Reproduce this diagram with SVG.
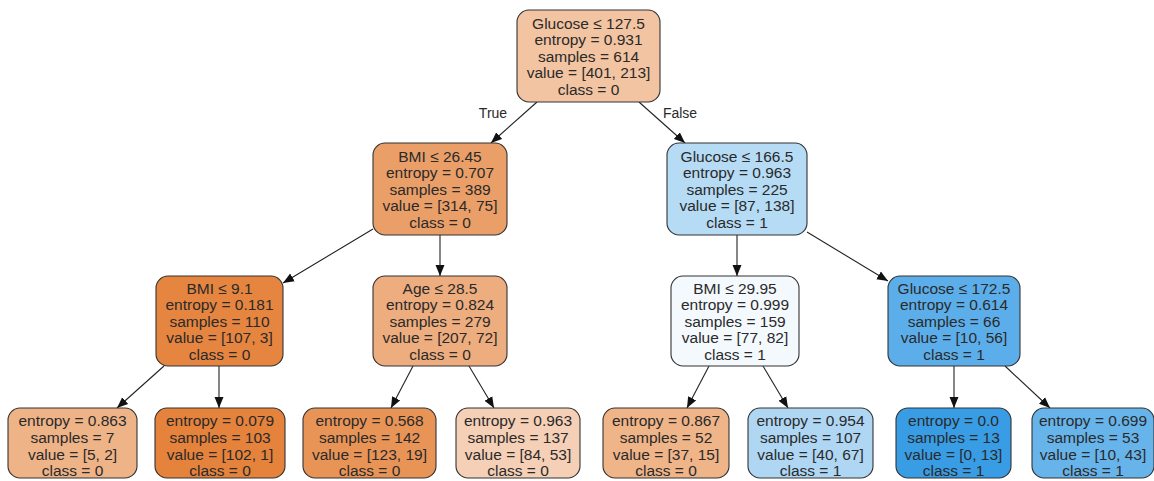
<svg xmlns="http://www.w3.org/2000/svg" width="1154" height="481" viewBox="0 0 1154 481">
<style>
.box{stroke:#333;stroke-width:1.1}
text{font-family:"Liberation Sans",Arial,sans-serif;font-size:15.5px;fill:#2a2a2a;text-anchor:middle}
.lbl{font-size:14px}
.edge{stroke:#222;stroke-width:1.1;fill:none;marker-end:url(#ah)}
</style>
<defs>
<marker id="ah" markerUnits="userSpaceOnUse" markerWidth="12" markerHeight="10" refX="11" refY="5" orient="auto">
<path d="M0,0.5 L11,5 L0,9.5 Z" fill="#111"/>
</marker>
</defs>
<g id="edges">
<line class="edge" x1="537" y1="102" x2="491" y2="143"/>
<line class="edge" x1="639" y1="102" x2="685" y2="143"/>
<line class="edge" x1="373" y1="229" x2="283" y2="283"/>
<line class="edge" x1="440" y1="235" x2="440" y2="276"/>
<line class="edge" x1="737" y1="235" x2="737" y2="276"/>
<line class="edge" x1="807" y1="232" x2="888" y2="281"/>
<line class="edge" x1="164" y1="366" x2="117" y2="408"/>
<line class="edge" x1="219" y1="366" x2="219" y2="408"/>
<line class="edge" x1="413" y1="366" x2="391" y2="408"/>
<line class="edge" x1="469" y1="366" x2="494" y2="408"/>
<line class="edge" x1="709" y1="366" x2="687" y2="408"/>
<line class="edge" x1="763" y1="366" x2="788" y2="408"/>
<line class="edge" x1="954" y1="366" x2="954" y2="408"/>
<line class="edge" x1="1005" y1="366" x2="1050" y2="408"/>
<text class="lbl" x="493" y="118">True</text>
<text class="lbl" x="680" y="118">False</text>
</g>
<g id="n0">
<rect class="box" x="517" y="10" width="143" height="92" rx="12" fill="#f3c4a2"/>
<text x="588.5" y="28.5">Glucose ≤ 127.5</text>
<text x="588.5" y="45">entropy = 0.931</text>
<text x="588.5" y="61.5">samples = 614</text>
<text x="588.5" y="78">value = [401, 213]</text>
<text x="588.5" y="94.5">class = 0</text>
</g>
<g id="n1">
<rect class="box" x="373" y="143" width="134" height="92" rx="12" fill="#eb9f68"/>
<text x="440" y="161.5">BMI ≤ 26.45</text>
<text x="440" y="178">entropy = 0.707</text>
<text x="440" y="194.5">samples = 389</text>
<text x="440" y="211">value = [314, 75]</text>
<text x="440" y="227.5">class = 0</text>
</g>
<g id="n2">
<rect class="box" x="667" y="143" width="140" height="92" rx="12" fill="#b6dbf5"/>
<text x="737" y="161.5">Glucose ≤ 166.5</text>
<text x="737" y="178">entropy = 0.963</text>
<text x="737" y="194.5">samples = 225</text>
<text x="737" y="211">value = [87, 138]</text>
<text x="737" y="227.5">class = 1</text>
</g>
<g id="n3">
<rect class="box" x="156" y="276" width="127" height="90" rx="12" fill="#e68540"/>
<text x="219.5" y="293.5">BMI ≤ 9.1</text>
<text x="219.5" y="310">entropy = 0.181</text>
<text x="219.5" y="326.5">samples = 110</text>
<text x="219.5" y="343">value = [107, 3]</text>
<text x="219.5" y="359.5">class = 0</text>
</g>
<g id="n4">
<rect class="box" x="373" y="276" width="134" height="90" rx="12" fill="#eead7e"/>
<text x="440" y="293.5">Age ≤ 28.5</text>
<text x="440" y="310">entropy = 0.824</text>
<text x="440" y="326.5">samples = 279</text>
<text x="440" y="343">value = [207, 72]</text>
<text x="440" y="359.5">class = 0</text>
</g>
<g id="n5">
<rect class="box" x="671" y="276" width="128" height="90" rx="12" fill="#f3f9fd"/>
<text x="735" y="293.5">BMI ≤ 29.95</text>
<text x="735" y="310">entropy = 0.999</text>
<text x="735" y="326.5">samples = 159</text>
<text x="735" y="343">value = [77, 82]</text>
<text x="735" y="359.5">class = 1</text>
</g>
<g id="n6">
<rect class="box" x="888" y="276" width="132" height="90" rx="12" fill="#5caeea"/>
<text x="954" y="293.5">Glucose ≤ 172.5</text>
<text x="954" y="310">entropy = 0.614</text>
<text x="954" y="326.5">samples = 66</text>
<text x="954" y="343">value = [10, 56]</text>
<text x="954" y="359.5">class = 1</text>
</g>
<g id="n7">
<rect class="box" x="8" y="408" width="129" height="70" rx="12" fill="#efb388"/>
<text x="72.5" y="425.5">entropy = 0.863</text>
<text x="72.5" y="442.5">samples = 7</text>
<text x="72.5" y="459.5">value = [5, 2]</text>
<text x="72.5" y="476">class = 0</text>
</g>
<g id="n8">
<rect class="box" x="155" y="408" width="130" height="70" rx="12" fill="#e5823b"/>
<text x="220" y="425.5">entropy = 0.079</text>
<text x="220" y="442.5">samples = 103</text>
<text x="220" y="459.5">value = [102, 1]</text>
<text x="220" y="476">class = 0</text>
</g>
<g id="n9">
<rect class="box" x="303" y="408" width="133" height="70" rx="12" fill="#e99457"/>
<text x="369.5" y="425.5">entropy = 0.568</text>
<text x="369.5" y="442.5">samples = 142</text>
<text x="369.5" y="459.5">value = [123, 19]</text>
<text x="369.5" y="476">class = 0</text>
</g>
<g id="n10">
<rect class="box" x="456" y="408" width="124" height="70" rx="12" fill="#f5d0b6"/>
<text x="518" y="425.5">entropy = 0.963</text>
<text x="518" y="442.5">samples = 137</text>
<text x="518" y="459.5">value = [84, 53]</text>
<text x="518" y="476">class = 0</text>
</g>
<g id="n11">
<rect class="box" x="603" y="408" width="126" height="70" rx="12" fill="#f0b489"/>
<text x="666" y="425.5">entropy = 0.867</text>
<text x="666" y="442.5">samples = 52</text>
<text x="666" y="459.5">value = [37, 15]</text>
<text x="666" y="476">class = 0</text>
</g>
<g id="n12">
<rect class="box" x="748" y="408" width="125" height="70" rx="12" fill="#afd7f4"/>
<text x="810.5" y="425.5">entropy = 0.954</text>
<text x="810.5" y="442.5">samples = 107</text>
<text x="810.5" y="459.5">value = [40, 67]</text>
<text x="810.5" y="476">class = 1</text>
</g>
<g id="n13">
<rect class="box" x="896" y="408" width="115" height="70" rx="12" fill="#399de5"/>
<text x="953.5" y="425.5">entropy = 0.0</text>
<text x="953.5" y="442.5">samples = 13</text>
<text x="953.5" y="459.5">value = [0, 13]</text>
<text x="953.5" y="476">class = 1</text>
</g>
<g id="n14">
<rect class="box" x="1032" y="408" width="122" height="70" rx="12" fill="#67b4eb"/>
<text x="1093" y="425.5">entropy = 0.699</text>
<text x="1093" y="442.5">samples = 53</text>
<text x="1093" y="459.5">value = [10, 43]</text>
<text x="1093" y="476">class = 1</text>
</g>
</svg>
